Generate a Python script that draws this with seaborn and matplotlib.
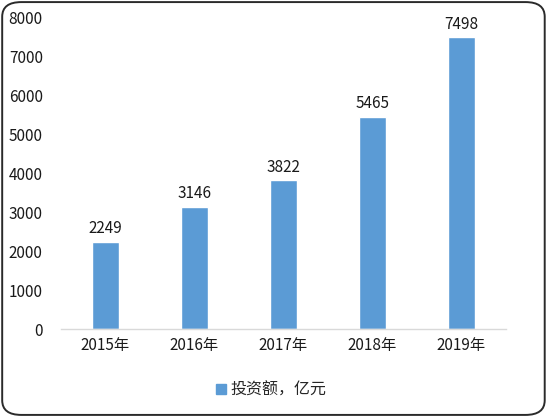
import matplotlib
matplotlib.use("Agg")
import matplotlib.pyplot as plt
import seaborn as sns
import pandas as pd
from matplotlib.patches import FancyBboxPatch, Patch

years = ["2015年", "2016年", "2017年", "2018年", "2019年"]
values = [2249, 3146, 3822, 5465, 7498]
series_name = "投资额，亿元"
yticks = [0, 1000, 2000, 3000, 4000, 5000, 6000, 7000, 8000]

sns.set_theme(style="white")
plt.rcParams['font.family'] = ['Noto Sans CJK SC', 'DejaVu Sans']

df = pd.DataFrame({"year": years, "value": values})

fig = plt.figure(figsize=(5.48, 4.17), dpi=100)
ax = fig.add_axes([0.111, 0.211, 0.812, 0.746])
color = "#5B9BD5"
sns.barplot(data=df, x="year", y="value", color=color, width=0.31, ax=ax, saturation=1)

fs = 11
tc = "#1a1a1a"
ax.set_ylim(0, 8000)
ax.set_yticks(yticks)
ax.set_yticklabels([str(t) for t in yticks], fontsize=fs, color=tc)
ax.set_xticks(range(len(years)))
ax.set_xticklabels(years, fontsize=fs, color=tc)
ax.set_xlabel("")
ax.set_ylabel("")
ax.tick_params(axis="both", length=0, pad=6)
ax.tick_params(axis="y", pad=13)
for s in ["top", "right", "left"]:
    ax.spines[s].set_visible(False)
ax.spines["bottom"].set_color("#D9D9D9")
ax.spines["bottom"].set_linewidth(1)

for i, v in enumerate(values):
    ax.text(i, v + 110, str(v), ha="center", va="bottom", fontsize=fs, color=tc)

handles = [Patch(facecolor=color, edgecolor=color, label=series_name)]
fig.legend(handles=handles, loc="center", bbox_to_anchor=(0.495, 0.064), frameon=False,
           fontsize=11.5, handlelength=0.6, handleheight=0.6, handletextpad=0.3)

border = FancyBboxPatch((0.004, 0.005), 0.99, 0.99, boxstyle="round,pad=0,rounding_size=0.035",
                        transform=fig.transFigure, facecolor="none", edgecolor="#2a2a2a",
                        linewidth=1.4)
fig.patches.append(border)

fig.savefig("out.png", dpi=100)
